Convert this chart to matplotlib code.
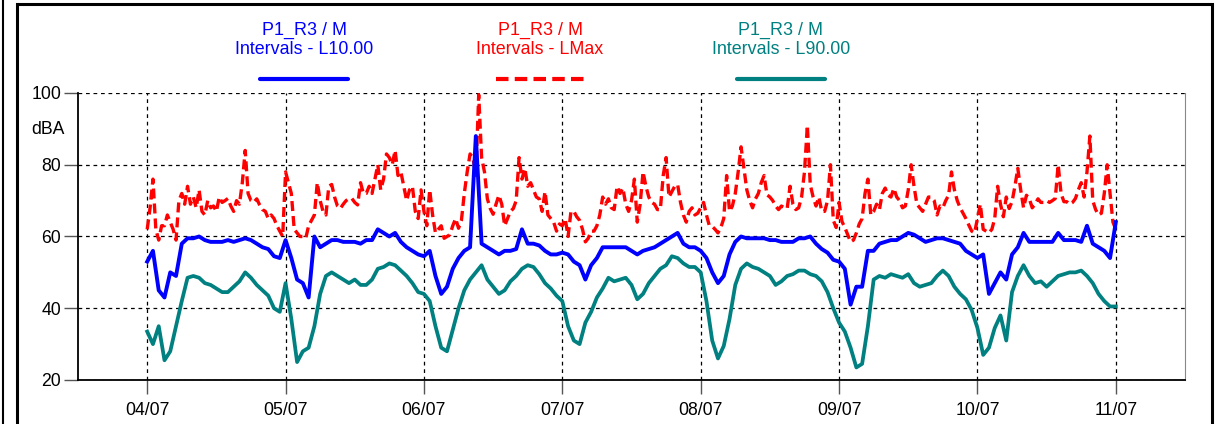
import matplotlib
matplotlib.use("Agg")
import matplotlib.pyplot as plt
from matplotlib.lines import Line2D
import numpy as np

# SERIES : L10 and L90 hourly, LMax half-hourly (04/07 00h -> 11/07 00h)
l10 = [53, 56, 45, 43, 50, 49, 58, 59.5, 59.5, 60, 59, 58.5, 58.5, 58.5, 59, 58.5, 59, 59.5, 59, 58, 57, 56.5, 54.5, 54,
       59, 54, 48, 47, 43, 60, 57, 58, 59, 59, 58.5, 58.5, 58.5, 58, 59, 59, 62, 61, 60, 61, 58.5, 57, 56, 55,
       54.5, 56, 49, 44, 46, 51, 54, 56, 57, 88, 58, 57, 56, 55, 56, 56, 56.5, 62, 58, 58, 57.5, 56, 55, 55,
       55.5, 55, 53, 52, 48, 52, 54, 57, 57, 57, 57, 57, 56, 55, 56, 56.5, 57, 58, 59, 60, 61, 58, 57, 57,
       56, 54, 50, 47, 49, 55, 58.5, 60, 59.5, 59.5, 59.5, 59.5, 59, 59, 58.5, 58.5, 58.5, 59.5, 59.5, 60, 58, 56.5, 55.5, 53.5,
       53, 51, 41, 46, 46, 56, 56, 58, 58.5, 59, 59, 60, 61, 60.5, 59.5, 58.5, 59, 59.5, 59.5, 59, 58.5, 58, 56, 55,
       54, 55, 44, 47, 50, 48, 55, 57, 61, 58.5, 58.5, 58.5, 58.5, 58.5, 61, 59, 59, 59, 58.5, 63, 58, 57, 56, 54,
       64]

lmax = [62, 68, 76, 62, 59, 63, 63, 66, 64, 62, 59, 70, 72, 69, 74, 69, 71, 68, 73, 67, 66, 70, 68, 68.5,
        67, 71, 69.5, 70, 70.6, 68.5, 67, 70, 69, 75, 84, 72, 70, 69.5, 70.5, 68.8, 67.5, 67, 65, 66, 65, 63, 61.5, 60,
        78, 75, 72, 62, 61, 60, 60, 59.5, 63, 64.5, 66, 75, 70, 67, 66, 74, 74.5, 71, 68.5, 67.8, 69, 70, 70.6, 70.6,
        69.5, 68.8, 75, 72, 72, 74, 72, 76, 80, 73, 76, 83, 82, 80, 84, 77, 78, 74, 70, 73, 74, 67, 65, 73,
        67, 63, 73, 66, 61, 62, 63, 59.5, 60, 60.5, 63, 65, 62.3, 64.5, 72, 78, 83, 82, 77, 99.5, 82, 78, 70.5, 67.8,
        66.2, 69, 71.5, 69, 63, 65, 67, 67.8, 70, 82, 76, 79, 74, 75, 73, 71, 70.5, 67, 72.5, 66, 65, 64, 61.5, 63.5,
        63, 65, 60, 67, 67, 65.5, 64.5, 62, 58.5, 59.5, 61.5, 61.5, 63, 66, 71, 69, 70.5, 68, 67.5, 74, 72, 73.5, 69, 67,
        70, 76, 64, 69, 78, 74, 71, 69.5, 69, 67.5, 67.5, 77, 82, 71, 72.5, 74, 74.5, 69.5, 66, 64, 67, 68, 66, 66.5,
        68, 69.5, 66, 63, 62.8, 62, 61, 62.5, 65, 77, 67, 68.5, 72, 78, 85, 79, 73, 70, 68, 70.5, 72, 75, 77, 71.6,
        71, 70, 68.5, 67.5, 68.5, 68, 67.8, 74, 69, 67.5, 68, 71, 78, 91, 74.5, 71, 68.5, 71, 67, 67, 70, 80, 64.5, 62.5,
        69.5, 64.2, 62.5, 60.5, 58.5, 59, 61, 63.5, 65, 72, 76, 66, 67, 69, 67.5, 72, 73.5, 71.5, 71, 73.4, 71, 70, 68, 68.5,
        73, 80, 74, 69, 68, 67, 69, 71, 71, 70, 66, 68.5, 68, 70, 71.5, 78, 73, 70, 68, 66.5, 65, 63.2, 61.5, 61,
        65, 69, 62, 61.5, 61, 62, 65, 74, 69, 65.5, 71, 67.8, 69.7, 74, 79, 73, 68, 71.5, 70.5, 68, 69, 70.5, 69.5, 69.5,
        70, 69.5, 70, 70.6, 80, 72, 69.7, 69.7, 69, 69.5, 70.6, 73, 75, 71, 78, 88, 70, 67.5, 66, 66.5, 72, 80, 72, 64,
        62]

l90 = [33.5, 30, 35, 25.5, 28, 35, 42, 48.5, 49, 48.5, 47, 46.5, 45.5, 44.5, 44.5, 46, 47.5, 50, 48.5, 46.5, 45, 43.5, 40, 39,
       47, 37, 25, 28, 29, 35, 44, 49, 50, 49, 48, 47, 48, 46.5, 46.5, 48, 51, 51.5, 52.5, 52, 50.5, 49, 47, 44.5,
       44, 42, 35, 29, 28, 34, 40, 45, 48, 50, 52, 48, 46, 44, 45, 47.5, 49, 51, 52, 51.5, 49.5, 47, 45.5, 43.5,
       42, 35, 31, 30, 36, 39, 43, 45.5, 48.5, 47.5, 48, 48.5, 46.5, 42.5, 44, 47, 49, 51, 52, 54.5, 54, 52.5, 51.5, 51.5,
       50, 42, 31, 26, 29.5, 37, 46.5, 51, 52.5, 51.5, 51, 50, 49, 46.5, 47.5, 49, 49.5, 50.5, 50.5, 49.5, 49, 47.5, 44.5, 40,
       36, 33.5, 29, 23.5, 24.5, 35, 48, 49, 48.5, 49.5, 49, 48.5, 49.5, 47, 46, 46.5, 47, 49, 50.5, 49, 46, 44, 42.5, 39.5,
       34.5, 27, 29, 34.5, 38, 31, 44.5, 49, 52, 49, 47, 47.5, 46, 47.5, 49, 49.5, 50, 50, 50.5, 49, 47, 44, 42, 40.5,
       40.5]

day_labels = ["04/07", "05/07", "06/07", "07/07", "08/07", "09/07", "10/07", "11/07"]
y_ticks = [20, 40, 60, 80, 100]

BLUE = "#0000FF"
RED = "#FF0000"
TEAL = "#008080"

plt.rcParams['font.family'] = "Liberation Sans"

t_hour = np.arange(len(l10)) / 24.0
t_half = np.arange(len(lmax)) / 48.0

fig = plt.figure(figsize=(12.24, 4.24), dpi=100)
ax = fig.add_axes([78 / 1224, 44 / 424, (1185 - 78) / 1224, (380 - 93) / 424])

ax.plot(t_half, lmax, color=RED, lw=2.4, ls=(0, (3.0, 1.5)), zorder=3)
ax.plot(t_hour, l90, color=TEAL, lw=2.7, zorder=4)
ax.plot(t_hour, l10, color=BLUE, lw=2.8, zorder=5)

ax.set_xlim(-0.5, 7.5)
ax.set_ylim(20, 100)
ax.set_xticks(range(len(day_labels)))
ax.set_xticklabels(day_labels)
ax.set_yticks(y_ticks)
ax.grid(True, color="black", ls=(0, (3, 3)), lw=0.9)
ax.tick_params(axis="both", direction="out", length=10, width=1, color="#555555", labelsize=12.7)
ax.tick_params(axis="x", pad=6)
ax.tick_params(axis="y", pad=2)

ax.spines["top"].set_visible(False)
ax.spines["right"].set_color("#888888")
ax.spines["right"].set_linewidth(0.8)
ax.spines["left"].set_linewidth(1.3)
ax.spines["bottom"].set_linewidth(1.3)

fig.text(48 / 1224, 1 - 130 / 424, "dBA", ha="center", va="center", fontsize=12.7)

# LEGEND (text above short line)
legend_items = [("Intervals - L10.00", BLUE, "-", 304),
                ("Intervals - LMax", RED, (0, (3.0, 1.5)), 540),
                ("Intervals - L90.00", TEAL, "-", 781)]
for label, col, style, xc in legend_items:
    fig.text(xc / 1224, 1 - 30 / 424, "P1_R3 / M", color=col, ha="center", va="center", fontsize=12.9)
    fig.text(xc / 1224, 1 - 50 / 424, label, color=col, ha="center", va="center", fontsize=12.9)
    fig.add_artist(Line2D([(xc - 44) / 1224, (xc + 44) / 1224], [1 - 79 / 424, 1 - 79 / 424],
                          color=col, lw=3, ls=style, solid_capstyle="round",
                          transform=fig.transFigure))

# PAGE FRAME
fig.add_artist(Line2D([3.5 / 1224, 3.5 / 1224], [0, 1], color="black", lw=1.5, transform=fig.transFigure))
fig.add_artist(Line2D([17 / 1224, 17 / 1224, 1212 / 1224, 1212 / 1224], [0, 1 - 4 / 424, 1 - 4 / 424, 0],
                      color="black", lw=2.2, transform=fig.transFigure, solid_joinstyle="miter"))

plt.savefig("out.png", dpi=100)
